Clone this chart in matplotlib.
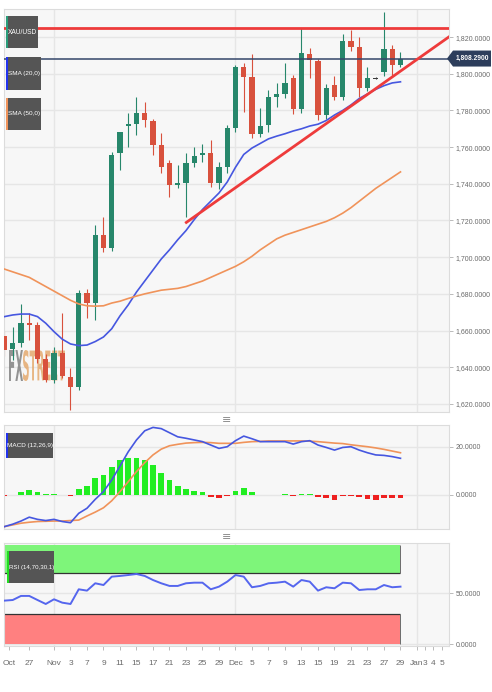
import matplotlib
matplotlib.use("Agg")
import matplotlib.pyplot as plt
from matplotlib.patches import Rectangle, Polygon, PathPatch
from matplotlib.textpath import TextPath
from matplotlib.font_manager import FontProperties
from matplotlib.transforms import Affine2D

W, H = 492, 692
plt.rcParams["font.family"] = ["Liberation Sans", "DejaVu Sans"]

# daily XAU/USD candles
opens = [1657.1, 1650.0, 1653.4, 1664.3, 1663.0, 1644.3, 1633.1, 1647.6, 1634.9, 1629.4,
         1680.7, 1674.9, 1712.1, 1704.8, 1756.6, 1771.5, 1772.6, 1778.6, 1774.4, 1761.1,
         1751.2, 1739.3, 1740.6, 1751.5, 1755.7, 1756.6, 1740.3, 1749.3, 1770.2, 1803.8,
         1798.4, 1767.1, 1772.0, 1787.5, 1789.0, 1797.5, 1780.6, 1810.6, 1806.9, 1777.5,
         1793.8, 1787.5, 1817.8, 1814.7, 1792.4, 1797.5, 1801.1, 1813.3, 1804.7]
highs = [1660.0, 1661.9, 1674.5, 1669.4, 1664.9, 1647.0, 1651.2, 1669.4, 1639.6, 1682.1,
         1682.5, 1717.5, 1722.1, 1757.5, 1768.4, 1778.6, 1787.5, 1784.7, 1775.5, 1767.9,
         1753.0, 1750.2, 1756.7, 1760.2, 1761.7, 1763.9, 1752.0, 1772.0, 1804.7, 1805.7,
         1810.6, 1781.1, 1791.1, 1795.1, 1806.0, 1799.5, 1824.7, 1813.8, 1808.0, 1794.2,
         1798.9, 1821.5, 1823.8, 1820.2, 1803.8, 1798.0, 1833.8, 1815.6, 1812.0]
lows = [1646.0, 1644.0, 1651.2, 1654.9, 1642.3, 1632.0, 1631.5, 1634.2, 1616.5, 1627.5,
        1666.7, 1665.8, 1703.0, 1703.5, 1747.5, 1760.0, 1766.6, 1770.8, 1755.7, 1746.0,
        1733.0, 1737.7, 1722.1, 1749.3, 1752.0, 1738.0, 1737.0, 1746.0, 1768.4, 1779.3,
        1765.0, 1765.7, 1768.4, 1781.7, 1787.0, 1778.0, 1778.5, 1797.5, 1774.8, 1775.5,
        1785.7, 1785.5, 1812.5, 1787.5, 1790.5, 1797.0, 1799.0, 1798.9, 1803.5]
closes = [1649.4, 1653.3, 1664.3, 1663.0, 1644.3, 1633.1, 1647.6, 1635.3, 1629.4, 1680.7,
          1674.9, 1712.1, 1704.8, 1755.6, 1768.4, 1772.6, 1778.6, 1774.8, 1761.1, 1749.3,
          1739.3, 1740.6, 1751.2, 1755.2, 1756.6, 1740.3, 1749.3, 1770.2, 1803.8, 1798.0,
          1767.1, 1771.5, 1787.1, 1789.0, 1795.1, 1780.6, 1811.1, 1807.5, 1777.5, 1792.0,
          1787.5, 1817.8, 1814.7, 1792.4, 1797.8, 1797.5, 1813.3, 1804.7, 1808.29]
sma20 = [1667.6, 1668.5, 1669.0, 1669.0, 1667.6, 1664.0, 1659.4, 1655.3, 1652.7, 1651.8,
         1652.1, 1654.0, 1656.5, 1661.0, 1668.0, 1674.0, 1681.0, 1687.0, 1693.0, 1699.0,
         1704.0, 1709.5, 1714.5, 1720.5, 1726.0, 1730.5, 1735.0, 1741.0, 1749.0, 1756.0,
         1759.5, 1762.0, 1764.5, 1766.0, 1767.3, 1768.8, 1770.0, 1771.5, 1772.5, 1774.5,
         1777.5, 1780.0, 1783.0, 1786.5, 1789.0, 1791.5, 1793.5, 1795.0, 1795.6]
sma50 = [1693.5, 1692.0, 1690.5, 1689.0, 1686.5, 1684.0, 1681.5, 1679.0, 1676.5, 1674.5,
         1673.5, 1673.3, 1673.5, 1675.0, 1676.0, 1677.5, 1678.8, 1680.0, 1681.0, 1682.0,
         1682.5, 1683.0, 1684.0, 1685.5, 1687.0, 1689.0, 1691.0, 1693.0, 1695.0, 1697.5,
         1700.5, 1704.0, 1707.0, 1710.0, 1712.0, 1713.5, 1715.0, 1716.5, 1718.0, 1719.5,
         1721.5, 1724.0, 1727.0, 1730.5, 1734.0, 1737.5, 1740.5, 1743.5, 1746.5]
resistance = 1824.8
trend_start = (21.9, 1718.5)
trend_end = (54.0, 1820.5)

macd = [-13.1, -12.1, -10.8, -9.2, -10.1, -10.6, -10.1, -11.0, -11.5, -7.6,
        -5.5, -1.8, 1.4, 6.2, 12.0, 17.9, 22.8, 26.6, 28.0, 27.5,
        25.8, 24.1, 23.5, 22.8, 22.1, 20.7, 19.3, 20.0, 22.5, 24.4,
        23.3, 22.1, 22.1, 22.1, 22.1, 21.1, 22.1, 22.5, 20.7, 19.7,
        18.6, 19.7, 20.0, 18.6, 17.5, 16.6, 16.4, 15.9, 15.2]
signal = [-13.1, -12.4, -11.7, -11.3, -11.0, -10.9, -10.8, -10.8, -10.6, -10.4,
          -8.7, -7.1, -5.3, -2.4, 1.4, 5.5, 9.7, 13.4, 16.6, 19.0,
          20.4, 21.0, 21.5, 21.7, 21.8, 21.7, 21.4, 21.4, 21.4, 21.8,
          22.1, 22.2, 22.4, 22.4, 22.4, 22.4, 22.4, 22.3, 22.1, 21.8,
          21.5, 21.3, 20.8, 20.4, 20.0, 19.5, 18.9, 18.2, 17.5]
hist = [-0.3, -0.2, 1.4, 2.1, 1.4, 0.3, 0.3, 0.1, -0.3, 2.5,
        3.9, 7.0, 8.4, 11.7, 14.5, 15.5, 15.5, 14.5, 12.4, 9.2,
        6.2, 3.6, 2.5, 1.7, 1.1, -0.7, -1.4, -0.4, 1.8, 2.8,
        1.1, 0.1, 0.1, 0.1, 0.3, -0.6, 0.3, 0.4, -0.9, -1.2,
        -2.0, -0.6, -0.3, -1.0, -1.5, -2.0, -1.4, -1.4, -1.4]
rsi = [42.8, 43.4, 47.4, 47.4, 43.4, 39.5, 44.1, 40.8, 39.5, 53.9,
       52.6, 59.8, 58.1, 66.3, 67.0, 67.9, 68.9, 67.0, 63.0, 59.8,
       57.2, 57.2, 59.8, 60.4, 60.4, 53.9, 56.5, 61.4, 67.9, 66.3,
       55.9, 57.2, 59.8, 60.4, 61.4, 56.5, 63.0, 61.4, 52.6, 55.9,
       54.9, 60.4, 59.8, 53.2, 53.9, 53.9, 58.1, 55.9, 56.5]

xlabels = ["Oct", "27", "Nov", "3", "7", "9", "11", "15", "17", "21", "23", "25", "29",
           "Dec", "5", "7", "9", "13", "15", "19", "21", "23", "27", "29", "Jan", "3", "4", "5"]
xlabel_pos = [0.55, 3, 6, 8, 10, 12, 14, 16, 18, 20, 22, 24, 26,
              28, 30, 32, 34, 36, 38, 40, 42, 44, 46, 48, 50, 51, 52, 53]
main_ticks = [1620, 1640, 1660, 1680, 1700, 1720, 1740, 1760, 1780, 1800, 1820]

GREEN = "#27876b"
RED = "#d8513d"
BLUE = "#4657e0"
ORANGE = "#f0935a"
GRAY_TXT = "#6a6a6a"
XLIM = (-0.06, 53.88)

fig = plt.figure(figsize=(W / 100, H / 100), dpi=100)


def fx(x):
    return x / W


def fy(y):
    return 1 - y / H


def panel(top, bottom, ylim, yticks):
    ax = fig.add_axes([fx(4), fy(bottom), fx(449) - fx(4), fy(top) - fy(bottom)])
    ax.set_facecolor("#f7f7f7")
    ax.set_xlim(*XLIM)
    ax.set_ylim(*ylim)
    ax.set_axisbelow(True)
    ax.yaxis.tick_right()
    ax.set_yticks(yticks)
    ax.set_yticklabels([f"{v:,.4f}" for v in yticks])
    ax.tick_params(axis="y", length=3, width=0.6, color="#b0b0b0", labelsize=5,
                   labelcolor=GRAY_TXT, pad=1.5)
    ax.set_xticks([])
    ax.grid(axis="y", color="#e6e6e6", lw=1)
    for x, l in zip(xlabel_pos, xlabels):
        if l in ("Nov", "Dec", "Jan"):
            ax.axvline(x, color="#e6e6e6", lw=1, zorder=0.5)
    for s in ax.spines.values():
        s.set_color("#dcdcdc")
        s.set_linewidth(0.8)
    return ax


def label_box(x0, y0, x1, y1, text, edge, size=4.6):
    fig.add_artist(Rectangle((fx(x0), fy(y1)), fx(x1) - fx(x0), fy(y0) - fy(y1),
                             transform=fig.transFigure, facecolor="#555555",
                             edgecolor="none", zorder=5))
    fig.add_artist(Rectangle((fx(x0), fy(y1)), fx(x0 + 1.5) - fx(x0), fy(y0) - fy(y1),
                             transform=fig.transFigure, facecolor=edge,
                             edgecolor="none", zorder=6))
    fig.text(fx((x0 + x1) / 2 + 0.8), fy((y0 + y1) / 2), text, color="white",
             fontsize=size, ha="center", va="center", zorder=7)


# ---------------- main price panel
ax = panel(9, 412, (1615.6, 1835.3), main_ticks)
n = len(closes)
idx = list(range(n))

# FXStreet watermark
wm_prop = FontProperties(family="DejaVu Sans", weight="bold")
for txt, col, x0, x1 in [("FX", "#7a7a7a", 9, 23), ("STREET", "#e4a566", 23, 65)]:
    tp = TextPath((0, 0), txt, size=10, prop=wm_prop)
    bb = tp.get_extents()
    tr = (Affine2D().translate(-bb.x0, -bb.y0)
          .scale((x1 - x0) / bb.width, 31 / bb.height)
          .translate(x0, H - 381))
    ax.add_patch(PathPatch(tp, transform=tr, facecolor=col, edgecolor="none",
                           alpha=0.8, zorder=0.8))

for i in idx:
    o, h, l, c = opens[i], highs[i], lows[i], closes[i]
    if c > o:
        col = GREEN
    elif c < o:
        col = RED
    else:
        col = "#3a3a3a"
    ax.vlines(i, l, h, color=col, lw=0.8, zorder=2)
    body = max(abs(c - o), 0.9)
    ax.bar(i, body, bottom=min(o, c) - (0.45 if c == o else 0), width=0.62,
           color=col, zorder=3, linewidth=0)

ax.plot(idx, sma20, color=BLUE, lw=1.2, zorder=4)
ax.plot(idx, sma50, color=ORANGE, lw=1.2, zorder=4)
ax.axhline(resistance, color="#ee3b3b", lw=2, zorder=4)
ax.axhline(closes[-1], color="#34466a", lw=1.1, zorder=4)
ax.plot([trend_start[0], trend_end[0]], [trend_start[1], trend_end[1]],
        color="#ee3b3b", lw=2, zorder=4, solid_capstyle="butt")

label_box(6, 16, 38, 48, "XAU/USD", "#2a9d7a", size=4.8)
label_box(6, 57, 41, 90, "SMA (20,0)", "#2233ee")
label_box(6, 98, 41, 130, "SMA (50,0)", ORANGE)

# last price tag
yp = H - ax.transData.transform((0, closes[-1]))[1]
fig.add_artist(Polygon([(fx(447), fy(yp)), (fx(453), fy(yp - 8)), (fx(491), fy(yp - 8)),
                        (fx(491), fy(yp + 8)), (fx(453), fy(yp + 8))],
                       closed=True, transform=fig.transFigure,
                       facecolor="#2d3e5c", edgecolor="none", zorder=5))
fig.text(fx(472), fy(yp), f"{closes[-1]:,.4f}", color="white", fontsize=4.8,
         fontweight="bold", ha="center", va="center", zorder=6)

# ---------------- MACD panel
ax2 = panel(425, 529, (-14.1, 29.0), [0, 20])
hcols = ["#22ee22" if v >= 0 else "#ee2020" for v in hist]
ax2.bar(idx, hist, width=0.7, color=hcols, zorder=2, linewidth=0)
ax2.plot(idx, signal, color=ORANGE, lw=1.2, zorder=3)
ax2.plot(idx, macd, color=BLUE, lw=1.2, zorder=4)
label_box(6, 433, 53, 458, "MACD (12,26,9)", "#2233ee", size=4.6)

# ---------------- RSI panel
ax3 = panel(543, 646, (-1.7, 99.3), [0, 50])
last = n - 1
ax3.fill_between([XLIM[0], last], 70, 97, color="#7ef57a", zorder=1, lw=0)
ax3.fill_between([XLIM[0], last], 0, 30, color="#ff8080", zorder=1, lw=0)
ax3.hlines([70, 30], XLIM[0], last, color="#333333", lw=0.9, zorder=2)
ax3.vlines(last, 0, 30, color="#555555", lw=0.6, zorder=2)
ax3.vlines(last, 70, 97, color="#555555", lw=0.6, zorder=2)
ax3.plot(idx, rsi, color="#5566ee", lw=1.4, zorder=3)
ax3.set_xticks(xlabel_pos)
ax3.set_xticklabels(xlabels)
ax3.tick_params(axis="x", length=3, width=0.6, color="#b0b0b0", labelsize=6,
                labelcolor=GRAY_TXT, pad=7)
label_box(7, 551, 54, 583, "RSI (14,70,30,1)", "#22dd22", size=4.4)

# panel separators
for ys in (420, 537):
    fig.text(fx(227), fy(ys), "\u2261", color="#8a8a8a", fontsize=8,
             ha="center", va="center", family="DejaVu Sans")

fig.savefig("out.png", dpi=100)
